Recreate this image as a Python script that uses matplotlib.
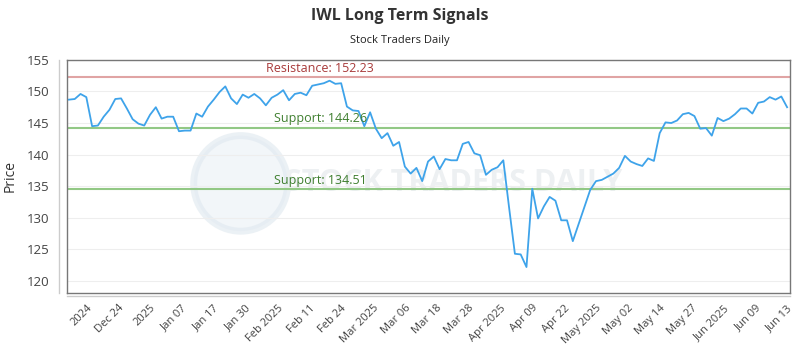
import numpy as np
import matplotlib
matplotlib.use("Agg")
import matplotlib.pyplot as plt
from matplotlib.patches import Ellipse

plt.rcParams['font.family'] = ['Open Sans', 'DejaVu Sans']

# closing prices, one per trading day
prix = [
    148.7, 148.8, 149.6, 149.1, 144.5, 144.6, 146.0, 147.1, 148.8, 148.9,
    147.3, 145.6, 144.9, 144.6, 146.3, 147.5, 145.7, 146.0, 146.0, 143.7,
    143.8, 143.8, 146.5, 146.0, 147.6, 148.7, 149.9, 150.8, 148.9, 148.0,
    149.5, 149.0,
    149.6, 148.9, 147.8, 149.0, 149.5, 150.2, 148.6, 149.6, 149.8, 149.4,
    150.9, 151.1, 151.3, 151.7, 151.2, 151.3, 147.6, 147.0, 146.9, 144.5,
    146.7, 144.1, 142.6, 143.4, 141.4, 142.0, 138.1, 137.0, 137.9, 135.8,
    138.9, 139.7,
    137.7, 139.3, 139.1, 139.1, 141.7, 142.0, 140.2, 139.9, 136.8, 137.6,
    138.0, 139.1, 131.6, 124.3, 124.2, 122.2, 134.6, 129.9, 131.8, 133.3,
    132.7, 129.6, 129.6, 126.3, 129.0, 131.7, 134.4, 135.8, 136.0, 136.5,
    137.0, 137.9,
    139.8, 138.9, 138.5, 138.2, 139.4, 139.0, 143.4, 145.1, 145.0, 145.4,
    146.4, 146.6, 146.1, 144.1, 144.2, 143.0, 145.8, 145.3, 145.7, 146.4,
    147.3, 147.3, 146.5, 148.2, 148.4, 149.1, 148.7, 149.2, 147.5,
]

etiquettes = [
    "2024", "Dec 24", "2025", "Jan 07", "Jan 17", "Jan 30", "Feb 2025",
    "Feb 11", "Feb 24", "Mar 2025", "Mar 06", "Mar 18", "Mar 28",
    "Apr 2025", "Apr 09", "Apr 22", "May 2025", "May 02", "May 14",
    "May 27", "Jun 2025", "Jun 09", "Jun 13",
]

resistance = 152.23
supports = [144.26, 134.51]

x = np.arange(len(prix))

fig = plt.figure(figsize=(8, 3.5), dpi=100)
ax = fig.add_axes([0.084, 0.163, 0.9035, 0.666])

# filigrane (logo rond + nom)
ax.add_patch(Ellipse((0.24, 0.47), 0.13, 0.41, transform=ax.transAxes,
                     facecolor='#eaf0f5', edgecolor='#dfe8ef', lw=5,
                     alpha=0.6, zorder=0))
ax.text(0.535, 0.47, "STOCK TRADERS DAILY", transform=ax.transAxes,
        fontsize=22, fontweight='bold', color='#edf0f2', ha='center',
        va='center', zorder=0)

ax.plot(x, prix, color='#3ea3ea', lw=1.3, zorder=3)

ax.axhline(resistance, color='#e0a4a4', lw=1.5, zorder=2)
ax.text(0.35, resistance + 0.35, "Resistance: %.2f" % resistance,
        transform=ax.get_yaxis_transform(), color='#a83a3a', fontsize=9,
        ha='center', va='bottom')
for s in supports:
    ax.axhline(s, color='#92c885', lw=1.5, zorder=2)
    ax.text(0.35, s + 0.35, "Support: %.2f" % s,
            transform=ax.get_yaxis_transform(), color='#3f7f2f', fontsize=9,
            ha='center', va='bottom')

ax.set_xlim(-0.3, len(prix) - 0.5)
ax.set_ylim(118.1, 155)
ax.set_yticks([120, 125, 130, 135, 140, 145, 150, 155])
ax.grid(axis='y', color='#eeeeee', lw=0.8)
ax.set_axisbelow(True)

ax.set_xticks(np.linspace(3, len(prix) - 1, len(etiquettes)))
ax.set_xticklabels(etiquettes, rotation=45, ha='right',
                   rotation_mode='anchor', fontsize=8, color='#444444')
ax.tick_params(axis='x', length=0, pad=7)
ax.tick_params(axis='y', length=0, pad=13, labelsize=9.5, labelcolor='#444444')

for sp in ax.spines.values():
    sp.set_color('#777777')
    sp.set_linewidth(1)

# axes decales facon highcharts
ax.plot([-0.012, -0.012], [0.0, 1.0], transform=ax.transAxes,
        color='#cccccc', lw=1, clip_on=False)
ax.plot([0, 1], [-0.013, -0.013], transform=ax.transAxes,
        color='#cccccc', lw=1, clip_on=False)

ax.set_ylabel("Price", fontsize=10, color='#333333', labelpad=6)

fig.text(0.5, 0.955, "IWL Long Term Signals", ha='center', va='center',
         fontsize=11.5, fontweight='bold', color='#333333')
fig.text(0.5, 0.885, "Stock Traders Daily", ha='center', va='center',
         fontsize=8, color='#222222')

fig.savefig("out.png", dpi=100)
